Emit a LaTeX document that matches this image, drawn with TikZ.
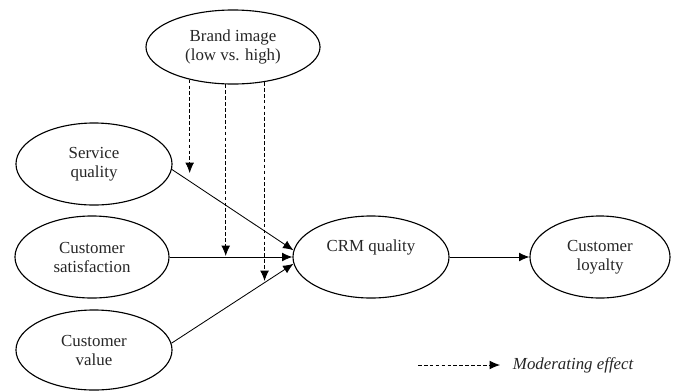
\documentclass[tikz,border=0pt]{standalone}
\usepackage{fontspec}
\setmainfont{Liberation Serif}
\usetikzlibrary{shapes.geometric,arrows.meta}

\tikzset{
  construct/.style={ellipse, draw, line width=0.8pt, inner sep=0pt,
    align=center, text=black!85, font=\fontsize{12}{13.5}\selectfont},
  path/.style={-{Latex[length=2.6mm,width=2.2mm]}, line width=0.6pt},
  moderate/.style={-{Latex[length=2.6mm,width=2.2mm]}, line width=0.6pt, dash pattern=on 2.6pt off 1.6pt}
}

\begin{document}
\begin{tikzpicture}[x=0.025cm,y=-0.025cm]
        \useasboundingbox (0,0) rectangle (673,391);
        % constructs
        \node[construct, minimum width=4.35cm, minimum height=1.85cm] (bi) at (233,47) {Brand image\\(low vs. high)};
        \node[construct, minimum width=3.9cm, minimum height=2.05cm] (sq) at (94,164) {Service\\quality};
        \node[construct, minimum width=3.85cm, minimum height=2.05cm] (cs) at (92,257) {Customer\\satisfaction};
        \node[construct, minimum width=3.9cm, minimum height=2.0cm] (cv) at (94,350) {Customer\\value};
        \node[construct, minimum width=3.9cm, minimum height=2.05cm] (crm) at (371,257) {CRM quality\\[3pt]\mbox{}};
        \node[construct, minimum width=3.5cm, minimum height=2.05cm] (cl) at (600,257) {Customer\\loyalty};
        % direct paths
        \draw[path] (sq.-4) -- (crm.175);
        \draw[path] (cs.east) -- (crm.west);
        \draw[path] (cv.5) -- (crm.185);
        \draw[path] (crm.east) -- (cl.west);
        % moderating effects
        \coordinate (m1) at (190,173);
        \coordinate (m2) at (226,256);
        \coordinate (m3) at (264,281);
        \draw[moderate] (bi.-143) -- (bi.-143 |- m1);
        \draw[moderate] (bi.-101) -- (bi.-101 |- m2);
        \draw[moderate] (bi.-48) -- (bi.-48 |- m3);
        % legend
        \coordinate (l1) at (418,365);
        \coordinate (l2) at (500,365);
        \node[anchor=west, text=black!85, font=\fontsize{12}{13.5}\selectfont\itshape] (legend) at (508,365) {Moderating effect};
        \draw[moderate] (l1) -- (l2);
\end{tikzpicture}
\end{document}
